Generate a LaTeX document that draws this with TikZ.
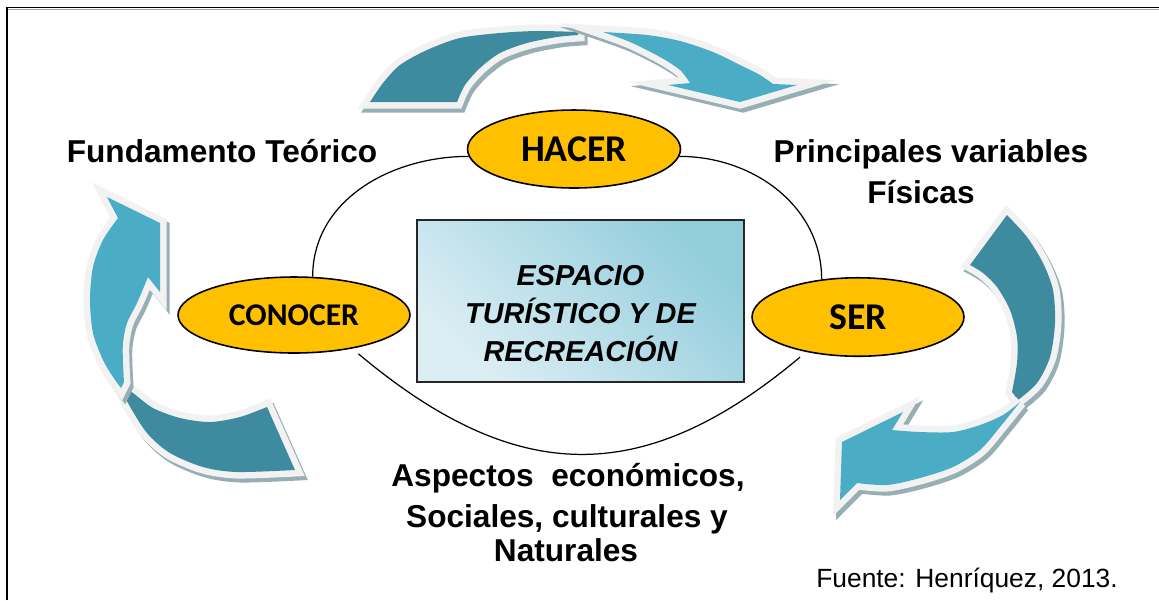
\documentclass[tikz,border=0pt]{standalone}
\usepackage{fontspec}
\setmainfont{Liberation Sans}
\newfontfamily\calib{Carlito}
\usetikzlibrary{shapes.geometric}
\definecolor{darkteal}{HTML}{3E8A9E}
\definecolor{lightteal}{HTML}{4BACC6}
\definecolor{outl}{HTML}{F2F2F2}
\definecolor{shadowc}{HTML}{98AEB5}
\definecolor{gold}{HTML}{FFC000}
\definecolor{boxdark}{HTML}{92CDDC}
\definecolor{boxlight}{HTML}{DCEEF4}
\begin{document}
\begin{tikzpicture}[x=0.02cm,y=0.02cm,
  piece/.style={fill=#1,
    preaction={fill=shadowc, draw=shadowc, line width=0.26cm, transform canvas={shift={(3,-4)}}},
    preaction={draw=outl, line width=0.26cm}},
  oval/.style={ellipse, draw=black, line width=0.9pt, fill=gold, inner sep=0pt,
    font=\calib\bfseries\fontsize{18}{20}\selectfont},
  lab/.style={font=\bfseries\fontsize{18}{22}\selectfont, inner sep=0pt, anchor=base},
  link/.style={line width=0.7pt, draw=black}
]
\useasboundingbox (0,0) rectangle (1159,-600);
% frame
\draw[line width=1.1pt] (7,-600) -- (7,-7.5) -- (1159,-7.5);
\draw[line width=0.6pt, black!35] (8,-9.5) -- (1159,-9.5);

% ---- top arrow
\path[piece=darkteal] plot[smooth] coordinates {(370,-102) (383,-83) (400,-65) (427,-50) (460,-38) (500,-33) (537,-31) (578,-32)}
  -- plot[smooth] coordinates {(578,-35) (557,-37) (527,-43) (500,-53) (480,-68) (465,-85) (457,-102)} -- cycle;
\path[piece=lightteal] plot[smooth] coordinates {(603,-32) (647,-35) (680,-41) (713,-52) (740,-65) (760,-75) (773,-84)}
  -- (797,-85) -- (740,-102) -- (668,-85) -- (690,-83)
  -- plot[smooth] coordinates {(690,-83) (680,-70) (660,-57) (630,-42) (603,-32)} -- cycle;

% ---- left arrow
\path[piece=darkteal] plot[smooth] coordinates {(121,-385) (128,-403) (147,-433) (170,-453) (203,-467) (237,-472) (295,-470)}
  -- (267,-407)
  -- plot[smooth] coordinates {(267,-407) (240,-417) (210,-422) (180,-418) (153,-408) (133,-393) (121,-385)} -- cycle;
\path[piece=lightteal] plot[smooth] coordinates {(118,-218) (103,-240) (93,-267) (90,-300) (93,-333) (103,-360) (113,-377) (121,-388)}
  -- plot[smooth] coordinates {(124,-382) (123,-363) (123,-343) (127,-323) (137,-303) (148,-277)}
  -- (160,-292) -- (160,-223) -- (107,-197) -- cycle;

% ---- right arrow
\path[piece=darkteal] plot[smooth] coordinates {(1007,-215) (1027,-237) (1043,-263) (1053,-290) (1055,-323) (1050,-357) (1037,-383) (1018,-400)}
  -- plot[smooth] coordinates {(1012,-392) (1017,-363) (1017,-337) (1010,-310) (997,-287) (983,-273) (970,-265)} -- cycle;
\path[piece=lightteal] plot[smooth] coordinates {(1020,-402) (1000,-427) (980,-450) (953,-467) (920,-478) (887,-485) (857,-483)}
  -- (840,-500) -- (842,-442) -- (903,-412) -- (892,-430)
  -- plot[smooth] coordinates {(892,-430) (920,-432) (953,-432) (980,-425) (1003,-415) (1020,-402)} -- cycle;

% ---- nodes
\node[oval, minimum width=4.26cm, minimum height=1.56cm, font=\calib\bfseries\fontsize{21.5}{24}\selectfont] (hacer) at (574,-149) {HACER};
\node[oval, minimum width=4.64cm, minimum height=1.52cm] (conocer) at (294,-315) {CONOCER};
\node[oval, minimum width=4.24cm, minimum height=1.57cm, font=\calib\bfseries\fontsize{21.5}{24}\selectfont] (ser) at (858,-317) {SER};

\node[draw=black!85, line width=1pt, minimum width=6.54cm, minimum height=3.24cm, inner sep=0pt,
  top color=boxdark, bottom color=boxlight, shading angle=-45, align=center,
  font=\bfseries\itshape\fontsize{16.4}{21.5}\selectfont] (esp) at (580.5,-301)
  {\rule{0pt}{26pt}ESPACIO\\TURÍSTICO Y DE\\RECREACIÓN};

% ---- connectors (big ring)
\draw[link] (hacer.184) to[out=180,in=90] (conocer.64);
\draw[link] (hacer.-4) to[out=0,in=90] (ser.134);
\draw[link, shorten <=0.16cm, shorten >=0.16cm] (conocer.-30) to[out=-40,in=-140,looseness=1.2] (ser.-146);

% ---- labels
\node[lab] (fund) at (222,-162) {Fundamento Teórico};
\node[lab] (princ1) at (931,-162) {Principales variables};
\node[lab] (princ2) at (921,-203) {Físicas};
\node[lab] (asp1) at (568,-486) {Aspectos\ \ económicos,};
\node[lab] (asp2) at (567,-527) {Sociales, culturales y};
\node[lab] (asp3) at (566,-561) {Naturales};
\node[inner sep=0pt, anchor=base, font=\fontsize{15}{18}\selectfont] (fuente) at (967,-587) {Fuente: Henríquez, 2013.};
\end{tikzpicture}
\end{document}
